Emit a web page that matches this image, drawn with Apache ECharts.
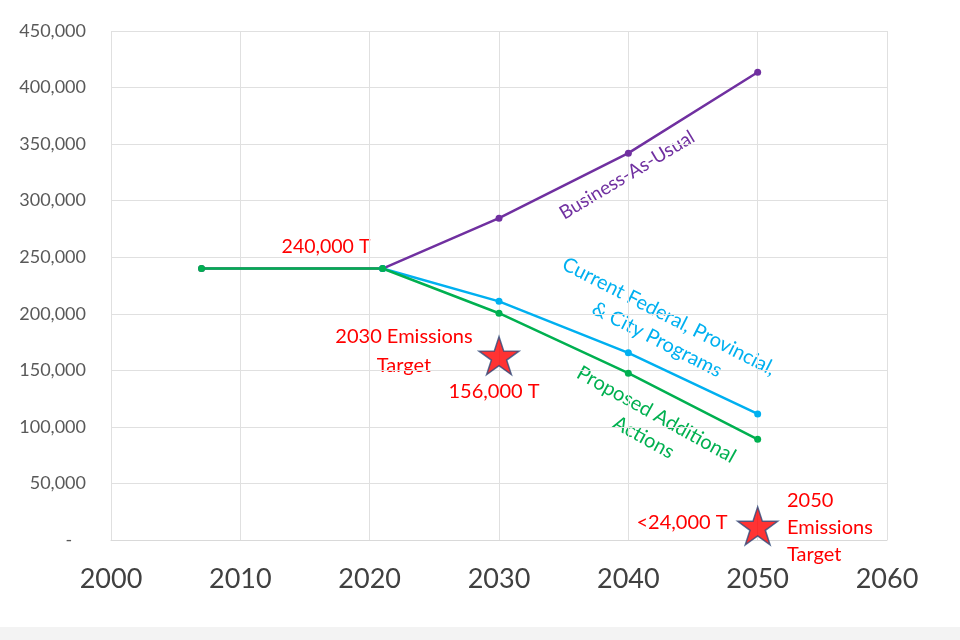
<!DOCTYPE html>
<html>
<head>
<meta charset="utf-8">
<script src="https://cdn.jsdelivr.net/npm/echarts@6/dist/echarts.min.js"></script>
<style>html,body{margin:0;padding:0;background:#fff;}#c{width:960px;height:640px;}</style>
</head>
<body>
<div id="c"></div>
<script>
const xTicks = [2000, 2010, 2020, 2030, 2040, 2050, 2060];
const yTicks = [0, 50000, 100000, 150000, 200000, 250000, 300000, 350000, 400000, 450000];

const bauYears = [2007, 2021, 2030, 2040, 2050];
const bauValues = [240000, 240000, 284500, 342000, 413500];

const currentYears = [2021, 2030, 2040, 2050];
const currentValues = [240000, 211000, 165500, 111500];

const proposedYears = [2007, 2021, 2030, 2040, 2050];
const proposedValues = [240000, 240000, 200500, 147500, 89000];

const targetYears = [2030, 2050];
const targetValues = [163000, 12500];

const pairs = (xs, ys) => xs.map((x, i) => [x, ys[i]]);
const FONT = 'Lato, "Open Sans", sans-serif';
const STAR = 'path://M50,0 L61.2,34.5 L97.6,34.5 L68.2,55.9 L79.4,90.5 L50,69.1 L20.6,90.5 L31.8,55.9 L2.4,34.5 L38.8,34.5 Z';

function lineSeries(name, xs, ys, color) {
  return {
    name, type: 'line', data: pairs(xs, ys),
    lineStyle: { color, width: 2.5 },
    itemStyle: { color },
    symbol: 'circle', symbolSize: 7, showSymbol: true,
    animation: false, z: 3
  };
}

const chart = echarts.init(document.getElementById('c'));
const deg = Math.PI / 180;
const red = '#ff0000';

chart.setOption({
  backgroundColor: '#ffffff',
  animation: false,
  grid: { left: 111, right: 73, top: 31, bottom: 100 },
  xAxis: {
    type: 'value', min: xTicks[0], max: xTicks[xTicks.length - 1], interval: 10,
    axisLine: { show: true, lineStyle: { color: '#d9d9d9', width: 1 } },
    axisTick: { show: false },
    splitLine: { show: true, lineStyle: { color: '#e0e0e0', width: 1 } },
    axisLabel: { color: '#404040', fontSize: 27, fontFamily: FONT, margin: 26, formatter: v => String(v) }
  },
  yAxis: {
    type: 'value', min: yTicks[0], max: yTicks[yTicks.length - 1], interval: 50000,
    axisLine: { show: false },
    axisTick: { show: false },
    splitLine: { show: true, lineStyle: { color: '#e0e0e0', width: 1 } },
    axisLabel: {
      color: '#595959', fontSize: 18, fontFamily: FONT, margin: 25,
      formatter: v => v === 0 ? '-   ' : v.toLocaleString('en-US')
    }
  },
  series: [
    lineSeries('Business-As-Usual', bauYears, bauValues, '#7030a0'),
    lineSeries('Current Federal, Provincial, & City Programs', currentYears, currentValues, '#00b0f0'),
    lineSeries('Proposed Additional Actions', proposedYears, proposedValues, '#00b050'),
    {
      name: 'Targets', type: 'scatter', data: pairs(targetYears, targetValues),
      symbol: STAR, symbolSize: [40, 38],
      itemStyle: { color: '#ff0000', borderColor: '#2f4b7c', borderWidth: 1.5 },
      z: 4, animation: false
    }
  ],
  graphic: [
    { type: 'rect', left: 0, top: 627, shape: { width: 960, height: 13 }, style: { fill: '#f3f3f3' }, silent: true },
    { type: 'text', x: 627, y: 175, rotation: 31 * deg,
      style: { text: 'Business-As-Usual', fill: '#7030a0', font: '19px ' + FONT, textAlign: 'center', textVerticalAlign: 'middle' } },
    { type: 'text', x: 663, y: 328, rotation: -27 * deg,
      style: { text: 'Current Federal, Provincial,\n& City Programs', fill: '#00b0f0', font: '20px ' + FONT, lineHeight: 26, textAlign: 'center', textVerticalAlign: 'middle' } },
    { type: 'text', x: 650, y: 426, rotation: -29 * deg,
      style: { text: 'Proposed Additional\nActions', fill: '#00b050', font: '20px ' + FONT, lineHeight: 26, textAlign: 'center', textVerticalAlign: 'middle' } },
    { type: 'text', x: 326, y: 247,
      style: { text: '240,000 T', fill: red, font: '19.5px ' + FONT, textAlign: 'center', textVerticalAlign: 'middle' } },
    { type: 'text', x: 404, y: 351,
      style: { text: '2030 Emissions\nTarget', fill: red, font: '20px ' + FONT, lineHeight: 29, textAlign: 'center', textVerticalAlign: 'middle' } },
    { type: 'text', x: 494, y: 392,
      style: { text: '156,000 T', fill: red, font: '20px ' + FONT, textAlign: 'center', textVerticalAlign: 'middle' } },
    { type: 'text', x: 682, y: 523,
      style: { text: '<24,000 T', fill: red, font: '20px ' + FONT, textAlign: 'center', textVerticalAlign: 'middle' } },
    { type: 'text', x: 787, y: 528,
      style: { text: '2050\nEmissions\nTarget', fill: red, font: '20px ' + FONT, lineHeight: 27, textAlign: 'left', textVerticalAlign: 'middle' } }
  ]
});
</script>
</body>
</html>
